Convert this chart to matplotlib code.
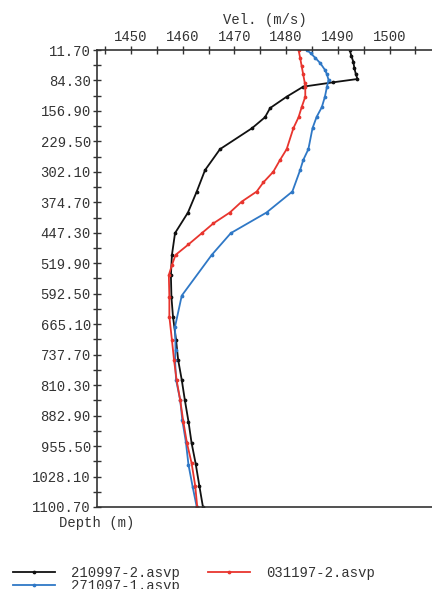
import matplotlib
matplotlib.use("Agg")
import matplotlib.pyplot as plt
from matplotlib.ticker import FixedLocator, MultipleLocator

# depth (m) / sound velocity (m/s) readings per cast
depth_210997 = [11.7, 25, 40, 55, 70, 80.8, 88.7, 99.1, 123, 150, 172, 198, 248,
                298, 349, 399, 448, 500, 548, 600, 647, 703, 750, 798, 846,
                897, 948, 998, 1050, 1100.7]
vel_210997 = [1492.3, 1492.6, 1493.0, 1493.2, 1493.5, 1493.8, 1489.1, 1483.3,
              1480.1, 1476.9, 1475.9, 1473.4, 1467.2, 1464.3, 1462.7, 1461.0,
              1458.5, 1457.9, 1457.7, 1457.8, 1458.1, 1458.7, 1459.1, 1459.8,
              1460.4, 1461.1, 1461.7, 1462.5, 1463.2, 1463.9]

depth_271097 = [11.7, 20, 30, 43, 59, 70, 83, 99, 123, 148, 171, 198, 248, 274,
                298, 349, 399, 448, 500, 597, 671, 726, 750, 798, 846, 893,
                946, 1000, 1052, 1100.7]
vel_271097 = [1484.0, 1484.8, 1485.6, 1486.6, 1487.5, 1487.9, 1488.2, 1487.9,
              1487.5, 1486.9, 1485.9, 1485.1, 1484.3, 1483.3, 1482.7, 1481.2,
              1476.2, 1469.3, 1465.6, 1459.8, 1458.5, 1458.6, 1458.5, 1458.7,
              1459.5, 1459.9, 1460.6, 1461.1, 1461.9, 1462.7]

depth_031197 = [11.7, 30, 50, 70, 90, 99, 123, 148, 172, 198, 248, 274, 302,
                327, 349, 373, 399, 425, 448, 475, 500, 524, 548, 600, 647,
                703, 750, 798, 846, 897, 948, 996, 1050, 1100.7]
vel_031197 = [1482.4, 1482.7, 1483.0, 1483.3, 1483.6, 1483.7, 1483.7, 1483.0,
              1482.4, 1481.4, 1480.1, 1478.8, 1477.5, 1475.6, 1474.3, 1471.4,
              1469.1, 1465.9, 1463.7, 1461.1, 1458.6, 1457.9, 1457.3, 1457.4,
              1457.4, 1457.9, 1458.3, 1458.8, 1459.5, 1460.1, 1460.8, 1461.7,
              1462.4, 1462.8]

series = [
    ("210997-2.asvp", depth_210997, vel_210997, "#111111"),
    ("271097-1.asvp", depth_271097, vel_271097, "#2f78c6"),
    ("031197-2.asvp", depth_031197, vel_031197, "#e8352e"),
]

depth_ticks = [11.7 + 72.6 * k for k in range(16)]
vel_ticks = [1450, 1460, 1470, 1480, 1490, 1500]

font = "Liberation Mono"
txt_color = "#333333"

fig = plt.figure(figsize=(4.32, 5.89), dpi=100)
ax = fig.add_axes([97 / 432, 1 - 507 / 589, 356.6 / 432, 457 / 589])

handles = []
for label, d, v, c in series:
    h, = ax.plot(v, d, color=c, lw=1.3, marker="o", ms=1.7, label=label)
    handles.append(h)

ax.set_xlim(1443.4, 1512.4)
ax.set_ylim(1100.7, 11.7)
ax.xaxis.tick_top()
ax.set_xticks(vel_ticks)
ax.xaxis.set_minor_locator(MultipleLocator(5))
ax.yaxis.set_major_locator(FixedLocator(depth_ticks))
ax.yaxis.set_minor_locator(FixedLocator([t + 36.3 for t in depth_ticks[:-1]]))
ax.set_yticklabels([f"{t:.2f}" for t in depth_ticks])

ax.tick_params(which="both", direction="inout", length=6, width=1,
               color="#333333", labelsize=10, labelcolor=txt_color)
ax.tick_params(axis="y", pad=1.5)
ax.tick_params(axis="x", pad=1.5)
for lab in ax.get_xticklabels() + ax.get_yticklabels():
    lab.set_fontfamily(font)

ax.spines["right"].set_visible(False)
for s in ("top", "left", "bottom"):
    ax.spines[s].set_color("#333333")
    ax.spines[s].set_linewidth(1.2)

fig.text(265 / 432, 1 - 20 / 589, "Vel. (m/s)", ha="center", va="center",
         fontsize=10, family=font, color=txt_color)
fig.text(59 / 432, 1 - 523 / 589, "Depth (m)", ha="left", va="center",
         fontsize=10, family=font, color=txt_color)

fig.legend(handles=handles, ncol=2, loc="upper left",
           bbox_to_anchor=(13 / 432, 1 - 566 / 589), frameon=False,
           prop={"family": font, "size": 10}, labelcolor=txt_color,
           handlelength=3.0, handletextpad=1.2, columnspacing=2.0,
           labelspacing=-0.1, borderpad=0, borderaxespad=0)

fig.savefig("out.png", dpi=100)
